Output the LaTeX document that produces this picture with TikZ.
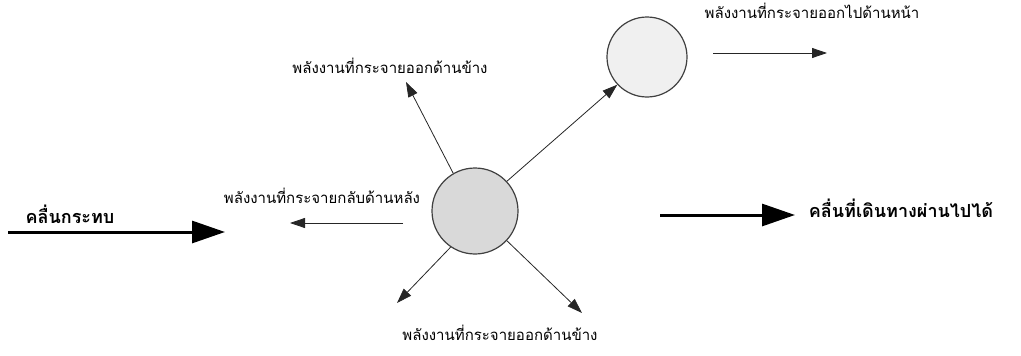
\documentclass[tikz,border=0pt]{standalone}
\usepackage{fontspec}
\newfontfamily\thaifont[Script=Thai]{Loma}
\usetikzlibrary{arrows.meta}

\begin{document}
\begin{tikzpicture}[x=1pt,y=-1pt,
  particle/.style={circle,draw=black!75,line width=1.2pt,inner sep=0pt},
  thinarrow/.style={-{Triangle[length=15pt,width=10pt]},line width=0.8pt,black!85},
  thickarrow/.style={-{Triangle[length=33pt,width=22pt]},line width=3pt},
  lbl/.style={font=\thaifont\fontsize{15}{18}\selectfont,inner sep=0pt,anchor=base},
  biglbl/.style={font=\thaifont\bfseries\fontsize{18}{22}\selectfont,inner sep=0pt,anchor=base}]
\useasboundingbox (0,0) rectangle (1021,356);
% particles
\node[particle,fill=gray!30,minimum size=86pt] (big) at (475,211) {};
\node[particle,fill=gray!12,minimum size=80pt] (small) at (647,57) {};
% free ends
\coordinate (inc0) at (8,232);
\coordinate (inc1) at (225,232);
\coordinate (out0) at (660,215);
\coordinate (out1) at (795,215);
\coordinate (back0) at (403,223);
\coordinate (back1) at (290,223);
\coordinate (fwd0) at (713,53);
\coordinate (fwd1) at (827,53);
\coordinate (sideup) at (406,82);
\coordinate (sidedl) at (397,303);
\coordinate (sidedr) at (582,313);
% waves
\draw[thickarrow] (inc0) -- (inc1);
\draw[thickarrow] (out0) -- (out1);
% scattered energy
\draw[thinarrow] (back0) -- (back1);
\draw[thinarrow] (big.120) -- (sideup);
\draw[thinarrow] (big.236) -- (sidedl);
\draw[thinarrow] (big.317) -- (sidedr);
\draw[thinarrow] (big.43) -- (small.223);
\draw[thinarrow] (fwd0) -- (fwd1);
% labels
\node[biglbl] (inclbl) at (70,223) {คลื่นกระทบ};
\node[biglbl] (outlbl) at (901,217) {คลื่นที่เดินทางผ่านไปได้};
\node[lbl] (backlbl) at (322,203) {พลังงานที่กระจายกลับด้านหลัง};
\node[lbl] (uplbl) at (390,73) {พลังงานที่กระจายออกด้านข้าง};
\node[lbl] (fwdlbl) at (812,19) {พลังงานที่กระจายออกไปด้านหน้า};
\node[lbl] (downlbl) at (500,340) {พลังงานที่กระจายออกด้านข้าง};
\end{tikzpicture}
\end{document}
